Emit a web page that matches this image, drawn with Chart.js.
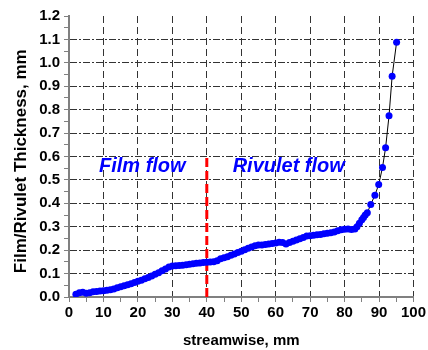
<!DOCTYPE html>
<html>
<head>
<meta charset="utf-8">
<script src="https://cdn.jsdelivr.net/npm/chart.js@4"></script>
<style>
  body { margin: 0; background: #fff; }
</style>
</head>
<body>
<canvas id="thicknessChart" width="428" height="350"></canvas>
<script>
// streamwise position (mm) and film/rivulet thickness (mm)
const streamwise = [2, 3, 4, 5, 6, 7, 8, 9, 10, 11, 12, 13, 14, 15, 16, 17, 18, 19, 20,
  21, 22, 23, 24, 25, 26, 27, 28, 29, 30, 31, 32, 33, 34, 35, 36, 37, 38, 39, 40,
  41, 42, 43, 44, 45, 46, 47, 48, 49, 50, 51, 52, 53, 54, 55, 56, 57, 58, 59, 60,
  61, 62, 63, 64, 65, 66, 67, 68, 69, 70, 71, 72, 73, 74, 75, 76, 77, 78, 79, 80,
  81, 82, 83, 83.6, 84.3, 85, 85.5, 86, 86.6, 87.6, 88.8, 89.9, 91, 91.9, 92.9, 93.8, 95.1];
const thickness = [0.012, 0.018, 0.02, 0.016, 0.018, 0.022, 0.024, 0.026, 0.027, 0.029, 0.031, 0.034, 0.04, 0.044, 0.048, 0.052, 0.057, 0.062, 0.067,
  0.072, 0.078, 0.083, 0.09, 0.097, 0.104, 0.112, 0.12, 0.128, 0.132, 0.133, 0.135, 0.136, 0.138, 0.14, 0.142, 0.144, 0.145, 0.147, 0.148,
  0.149, 0.151, 0.155, 0.163, 0.168, 0.172, 0.178, 0.184, 0.19, 0.195, 0.202, 0.208, 0.214, 0.219, 0.222, 0.222, 0.224, 0.226, 0.228, 0.231,
  0.234, 0.233, 0.226, 0.233, 0.238, 0.243, 0.249, 0.254, 0.26, 0.262, 0.264, 0.266, 0.267, 0.27, 0.272, 0.274, 0.278, 0.283, 0.287, 0.289,
  0.29, 0.288, 0.29, 0.30, 0.315, 0.33, 0.34, 0.35, 0.36, 0.395, 0.435, 0.48, 0.553, 0.637, 0.774, 0.943, 1.088];

// red dashed divider between the two regimes
const dividerX = [40, 40];
const dividerY = [0, 0.61];

// region labels (data coordinates)
const regionText = ['Film flow', 'Rivulet flow'];
const regionX = [8.7, 47.5];
const regionY = [0.533, 0.533];

const FONT = "'Liberation Sans', Arial, sans-serif";

const regionLabels = {
  id: 'regionLabels',
  afterDatasetsDraw(chart) {
    const ctx = chart.ctx;
    const xs = chart.scales.x, ys = chart.scales.y;
    ctx.save();
    ctx.font = 'italic bold 20px ' + FONT;
    ctx.fillStyle = '#0000ff';
    ctx.textAlign = 'left';
    ctx.textBaseline = 'alphabetic';
    regionText.forEach((t, i) => {
      ctx.fillText(t, xs.getPixelForValue(regionX[i]), ys.getPixelForValue(regionY[i]));
    });
    ctx.restore();
  }
};

const isMajorX = v => Math.round(v) % 10 === 0;
const isMajorY = v => Math.round(v * 100) % 10 === 0;

new Chart(document.getElementById('thicknessChart'), {
  type: 'line',
  data: {
    datasets: [{
      data: streamwise.map((x, i) => ({ x: x, y: thickness[i] })),
      borderColor: '#000',
      borderWidth: 1,
      pointRadius: 3.5,
      pointBackgroundColor: '#0000ff',
      pointBorderWidth: 0,
      tension: 0,
      order: 1
    }, {
      data: dividerX.map((x, i) => ({ x: x, y: dividerY[i] })),
      borderColor: '#ff0000',
      borderWidth: 3,
      borderDash: [9, 4],
      pointRadius: 0,
      order: 2
    }]
  },
  options: {
    responsive: false,
    animation: false,
    devicePixelRatio: 1,
    layout: { padding: { top: 16, right: 14, left: 0, bottom: 0 } },
    plugins: { legend: { display: false }, tooltip: { enabled: false } },
    scales: {
      x: {
        type: 'linear',
        min: 0,
        max: 100,
        afterFit: s => { s.height = 53; },
        ticks: {
          stepSize: 5,
          autoSkip: false,
          maxRotation: 0,
          padding: 2,
          color: '#000',
          font: { family: FONT, size: 15, weight: 'bold' },
          callback: v => isMajorX(v) ? String(v) : ''
        },
        grid: {
          color: c => (c.tick && isMajorX(c.tick.value) && c.tick.value !== 0) ? '#333' : 'rgba(0,0,0,0)',
          tickColor: '#808080',
          tickLength: 5,
          lineWidth: 1
        },
        border: { color: '#808080', width: 2, dash: [7, 4] },
        title: {
          display: true,
          text: 'streamwise, mm',
          color: '#000',
          font: { family: FONT, size: 15, weight: 'bold' },
          padding: { top: 0, bottom: 0 }
        }
      },
      y: {
        min: 0,
        max: 1.2,
        afterFit: s => { s.width = 69; },
        ticks: {
          stepSize: 0.05,
          autoSkip: false,
          padding: 4,
          color: '#000',
          font: { family: FONT, size: 15, weight: 'bold' },
          callback: v => isMajorY(v) ? v.toFixed(1) : ''
        },
        grid: {
          color: c => (c.tick && isMajorY(c.tick.value) && c.tick.value > 0.01 && c.tick.value < 1.19) ? '#333' : 'rgba(0,0,0,0)',
          tickColor: '#808080',
          tickLength: 5,
          lineWidth: 1
        },
        border: { color: '#808080', width: 2, dash: [7, 2, 2, 2] },
        title: {
          display: true,
          text: 'Film/Rivulet Thickness, mm\u00a0\u00a0',
          color: '#000',
          font: { family: FONT, size: 17, weight: 'bold' },
          padding: { top: 11, bottom: 0 }
        }
      }
    }
  },
  plugins: [regionLabels]
});
</script>
</body>
</html>
